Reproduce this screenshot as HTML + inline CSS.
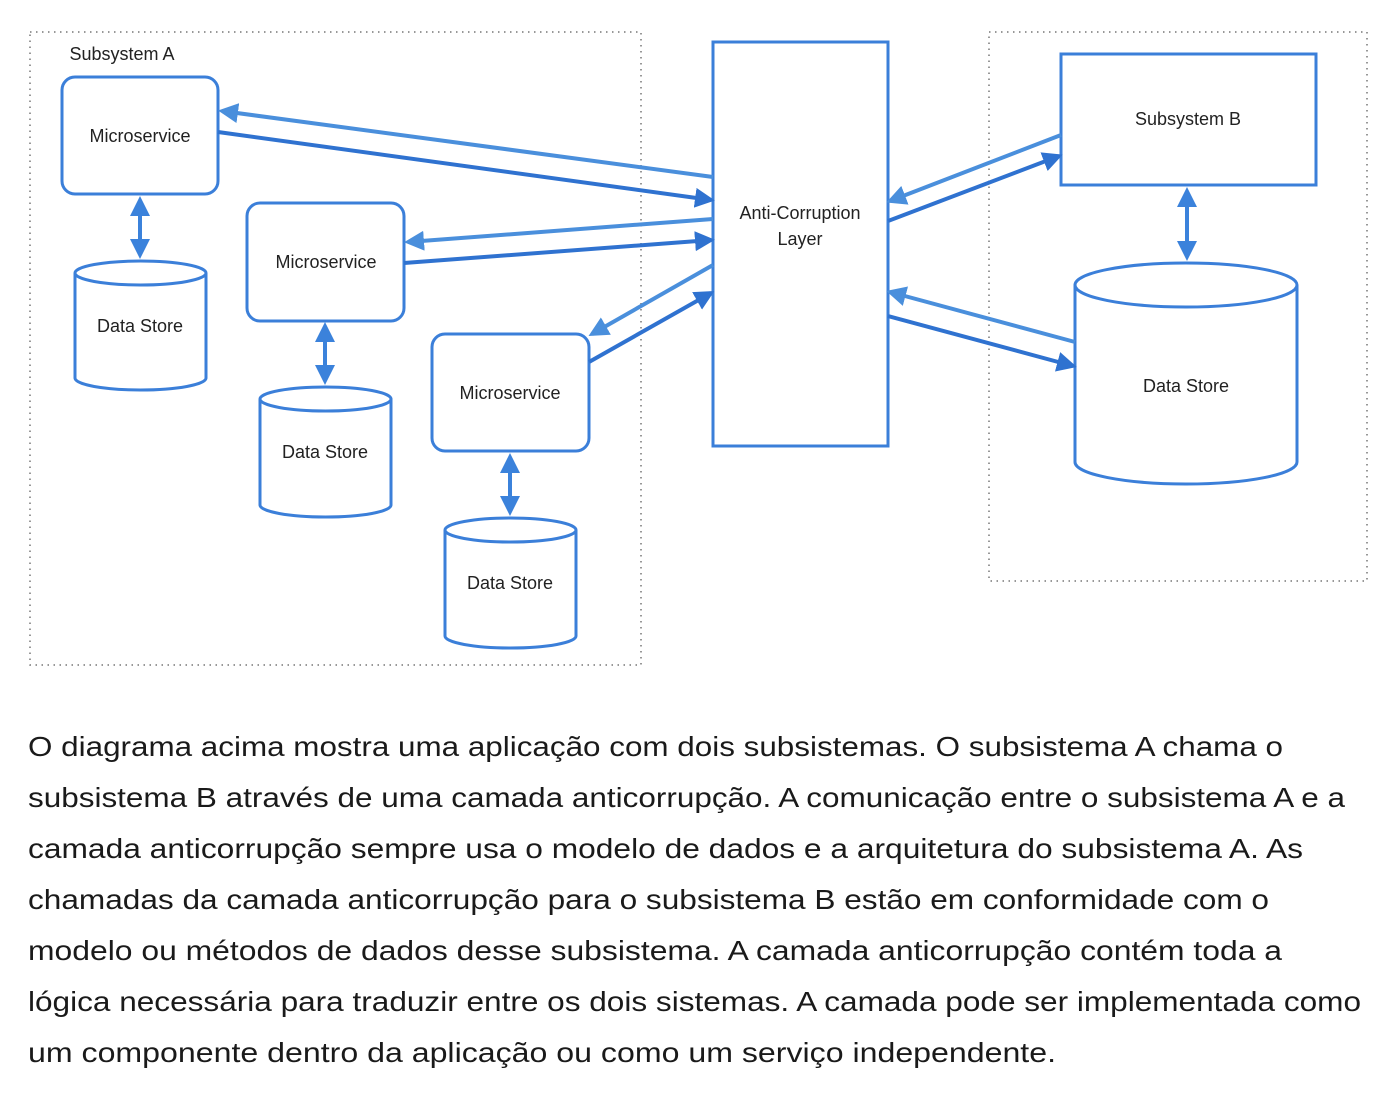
<!DOCTYPE html>
<html><head><meta charset="utf-8"><style>
html,body{margin:0;padding:0;background:#fff;}
svg{display:block;}
text{font-family:"Liberation Sans",sans-serif;}
</style></head><body>
<svg width="1398" height="1102" viewBox="0 0 1398 1102" xmlns="http://www.w3.org/2000/svg">
<defs>
<marker id="al" markerWidth="5" markerHeight="5" refX="4" refY="2.5" orient="auto" markerUnits="strokeWidth"><path d="M0,0 L5,2.5 L0,5 z" fill="#4a8fdc"/></marker>
<marker id="ad" markerWidth="5" markerHeight="5" refX="4" refY="2.5" orient="auto" markerUnits="strokeWidth"><path d="M0,0 L5,2.5 L0,5 z" fill="#2f72d0"/></marker>
<marker id="av" markerWidth="5" markerHeight="5" refX="4" refY="2.5" orient="auto-start-reverse" markerUnits="strokeWidth"><path d="M0,0 L5,2.5 L0,5 z" fill="#3b82db"/></marker>
</defs>
<g fill="none" stroke="#777" stroke-width="1.5" stroke-dasharray="1.5 4.5">
<rect x="30" y="32" width="611" height="633"/>
<rect x="989" y="32" width="378" height="549"/>
</g>
<g fill="#fff" stroke="#3b7fd9" stroke-width="3">
<rect x="62" y="77" width="156" height="117" rx="13"/>
<rect x="247" y="203" width="157" height="118" rx="13"/>
<rect x="432" y="334" width="157" height="117" rx="13"/>
<rect x="713" y="42" width="175" height="404"/>
<rect x="1061" y="54" width="255" height="131"/>
<path d="M75,273 V378 A65.5,12 0 0 0 206,378 V273"/>
<ellipse cx="140.5" cy="273" rx="65.5" ry="12"/>
<path d="M260,399 V505 A65.5,12 0 0 0 391,505 V399"/>
<ellipse cx="325.5" cy="399" rx="65.5" ry="12"/>
<path d="M445,530 V636 A65.5,12 0 0 0 576,636 V530"/>
<ellipse cx="510.5" cy="530" rx="65.5" ry="12"/>
<path d="M1075,285 V462 A111,22 0 0 0 1297,462 V285"/>
<ellipse cx="1186" cy="285" rx="111" ry="22"/>
</g>
<g stroke-width="4" fill="none">
<line x1="713" y1="177" x2="222" y2="111" stroke="#4a8fdc" marker-end="url(#al)"/>
<line x1="218" y1="132" x2="711" y2="200" stroke="#2f72d0" marker-end="url(#ad)"/>
<line x1="713" y1="219" x2="408" y2="242" stroke="#4a8fdc" marker-end="url(#al)"/>
<line x1="404" y1="263" x2="711" y2="240" stroke="#2f72d0" marker-end="url(#ad)"/>
<line x1="713" y1="265" x2="592" y2="334" stroke="#4a8fdc" marker-end="url(#al)"/>
<line x1="589" y1="362" x2="711" y2="293" stroke="#2f72d0" marker-end="url(#ad)"/>
<line x1="1061" y1="135" x2="890" y2="201" stroke="#4a8fdc" marker-end="url(#al)"/>
<line x1="888" y1="221" x2="1059" y2="156" stroke="#2f72d0" marker-end="url(#ad)"/>
<line x1="1075" y1="342" x2="890" y2="292" stroke="#4a8fdc" marker-end="url(#al)"/>
<line x1="888" y1="316" x2="1073" y2="366" stroke="#2f72d0" marker-end="url(#ad)"/>
</g>
<g stroke="#3b82db" stroke-width="4" marker-start="url(#av)" marker-end="url(#av)">
<line x1="140" y1="200" x2="140" y2="255"/>
<line x1="325" y1="326" x2="325" y2="381"/>
<line x1="510" y1="457" x2="510" y2="512"/>
<line x1="1187" y1="191" x2="1187" y2="257"/>
</g>
<g font-size="18" fill="#222" text-anchor="middle">
<text x="122" y="60">Subsystem A</text>
<text x="140" y="142">Microservice</text>
<text x="326" y="268">Microservice</text>
<text x="510" y="399">Microservice</text>
<text x="140" y="332">Data Store</text>
<text x="325" y="458">Data Store</text>
<text x="510" y="589">Data Store</text>
<text x="800" y="219">Anti-Corruption</text>
<text x="800" y="245">Layer</text>
<text x="1188" y="125">Subsystem B</text>
<text x="1186" y="392">Data Store</text>
</g>
<g font-size="28" fill="#1a1a1a">
<text x="28" y="756" textLength="1255" lengthAdjust="spacingAndGlyphs">O diagrama acima mostra uma aplicação com dois subsistemas. O subsistema A chama o</text>
<text x="28" y="807" textLength="1317" lengthAdjust="spacingAndGlyphs">subsistema B através de uma camada anticorrupção. A comunicação entre o subsistema A e a</text>
<text x="28" y="858" textLength="1275" lengthAdjust="spacingAndGlyphs">camada anticorrupção sempre usa o modelo de dados e a arquitetura do subsistema A. As</text>
<text x="28" y="909" textLength="1241" lengthAdjust="spacingAndGlyphs">chamadas da camada anticorrupção para o subsistema B estão em conformidade com o</text>
<text x="28" y="960" textLength="1254" lengthAdjust="spacingAndGlyphs">modelo ou métodos de dados desse subsistema. A camada anticorrupção contém toda a</text>
<text x="28" y="1011" textLength="1333" lengthAdjust="spacingAndGlyphs">lógica necessária para traduzir entre os dois sistemas. A camada pode ser implementada como</text>
<text x="28" y="1062" textLength="1028" lengthAdjust="spacingAndGlyphs">um componente dentro da aplicação ou como um serviço independente.</text>
</g>
</svg>
</body></html>
